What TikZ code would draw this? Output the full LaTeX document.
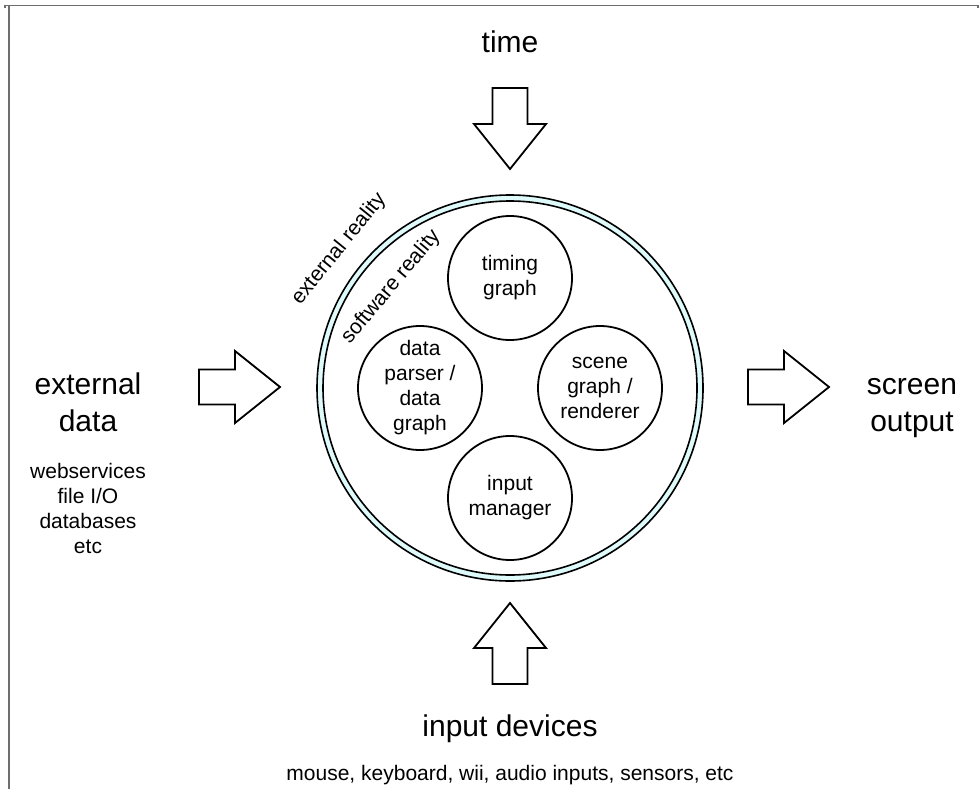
\documentclass[tikz,border=0pt]{standalone}
\usepackage{fontspec}
\setmainfont{Liberation Sans}
\definecolor{ringfill}{RGB}{222,250,250}
\definecolor{framegray}{RGB}{110,110,110}
\begin{document}
\begin{tikzpicture}[x=1pt,y=-1pt,
  blockarrow/.style={draw=black, line width=1.8pt, fill=white, line join=miter},
  bigtxt/.style={font=\fontsize{30}{36}\selectfont, inner sep=0pt, anchor=base},
  smalltxt/.style={font=\fontsize{21}{25}\selectfont, inner sep=0pt, anchor=base},
  arctxt/.style={font=\fontsize{21}{25}\selectfont, inner sep=0pt},
  innercirc/.style={circle, draw=black, line width=1.8pt, minimum size=124pt, inner sep=0pt,
    align=center, font=\fontsize{21}{25}\selectfont},
  ringline/.style={draw=black, line width=1.6pt},
  framestyle/.style={draw=framegray, line width=1.5pt}]
\useasboundingbox (0,0) rectangle (979,789);
% frame
\draw[framestyle] (5,8) -- (5,5.5) -- (978,5.5) -- (978,8);
\draw[framestyle] (9,5.5) -- (9,789);
% outer ring
\coordinate (c) at (510,388);
\fill[ringfill, even odd rule] (c) circle[radius=193pt] (c) circle[radius=187pt];
\draw[ringline] (c) circle[radius=193pt];
\draw[ringline] (c) circle[radius=187pt];
% inner circles
\node[innercirc] (timing) at (510,278) {timing\\graph};
\node[innercirc] (parser) at (420,388) {data\\parser /\\data\\graph};
\node[innercirc] (scene) at (600,388) {scene\\graph /\\renderer};
\node[innercirc] (inputmgr) at (510,498) {input\\manager};
% ring labels (straight, tangent to the ring)
\node[arctxt, rotate=51] (extreal) at (339,249) {external reality};
\node[arctxt, rotate=50] (softreal) at (391,287) {software reality};
% block arrows
\draw[blockarrow] (492.5,88) -- (527.5,88) -- (527.5,124) -- (546,124) -- (510,169) -- (474,124) -- (492.5,124) -- cycle;
\draw[blockarrow] (492.5,684) -- (527.5,684) -- (527.5,648) -- (546,648) -- (510,603) -- (474,648) -- (492.5,648) -- cycle;
\draw[blockarrow] (199,369.5) -- (235,369.5) -- (235,351) -- (280,387) -- (235,423) -- (235,404.5) -- (199,404.5) -- cycle;
\draw[blockarrow] (748,369.5) -- (784,369.5) -- (784,351) -- (829,387) -- (784,423) -- (784,404.5) -- (748,404.5) -- cycle;
% labels
\node[bigtxt] (time) at (510,53) {time};
\node[bigtxt] (ext1) at (88,394) {external};
\node[bigtxt] (ext2) at (88,431) {data};
\node[smalltxt] (web) at (88,478) {webservices};
\node[smalltxt] (fileio) at (88,503) {file I/O};
\node[smalltxt] (db) at (88,528) {databases};
\node[smalltxt] (etc) at (88,553) {etc};
\node[bigtxt] (scr1) at (912,394) {screen};
\node[bigtxt] (scr2) at (912,431) {output};
\node[bigtxt] (indev) at (510,736) {input devices};
\node[smalltxt] (indevs) at (510,780) {mouse, keyboard, wii, audio inputs, sensors, etc};
\end{tikzpicture}
\end{document}
